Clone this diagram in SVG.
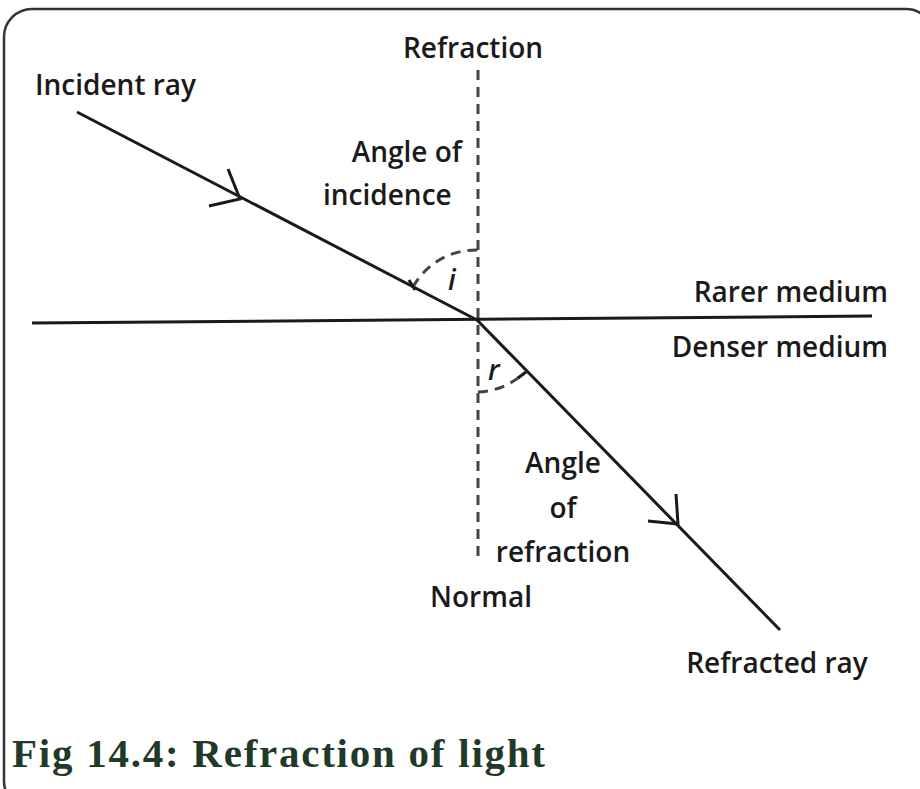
<svg xmlns="http://www.w3.org/2000/svg" width="920" height="789" viewBox="0 0 920 789">
<style>
.t{font-family:"Open Sans","Liberation Sans",sans-serif;font-weight:600;font-size:28px;fill:#1a1a1a}
.ln{stroke:#1a1a1a;stroke-width:3;fill:none}
.ds{stroke:#444;stroke-width:3;fill:none;stroke-dasharray:10,7}
</style>
<rect x="4" y="9" width="930" height="800" rx="28" fill="#fff" stroke="#333" stroke-width="2.5"/>
<g id="connectors">
<line class="ds" x1="478" y1="70" x2="478" y2="562"/>
<line class="ln" x1="32" y1="323" x2="872" y2="316"/>
<line class="ln" x1="77" y1="112" x2="477" y2="320"/>
<line class="ln" x1="477" y1="320" x2="780" y2="630"/>
<path class="ln" d="M228,169 L240,199 L209,206"/>
<path class="ln" d="M676,494 L678,524 L648,521"/>
<path class="ds" d="M413,287 A72,72 0 0 1 478,250"/>
<path class="ln" d="M409,280 l6,10"/>
<path class="ds" d="M478,392 A72,72 0 0 0 523,374"/>
<path class="ln" d="M518,378 l8,-6"/>
</g>
<g id="labels">
<text class="t" x="473" y="58" text-anchor="middle">Refraction</text>
<text class="t" x="35" y="95">Incident ray</text>
<text class="t" x="462" y="162" text-anchor="end">Angle of</text>
<text class="t" x="323" y="205">incidence</text>
<text class="t" x="448" y="290" font-style="italic">i</text>
<text class="t" x="488" y="380" font-style="italic">r</text>
<text class="t" x="888" y="302" text-anchor="end">Rarer medium</text>
<text class="t" x="888" y="357" text-anchor="end">Denser medium</text>
<text class="t" x="563" y="473" text-anchor="middle">Angle</text>
<text class="t" x="563" y="518" text-anchor="middle">of</text>
<text class="t" x="563" y="562" text-anchor="middle">refraction</text>
<text class="t" x="481" y="607" text-anchor="middle">Normal</text>
<text class="t" x="777" y="673" text-anchor="middle">Refracted ray</text>
<text x="12" y="767" font-family="Liberation Serif,serif" font-weight="bold" font-size="41" fill="#1f3a28" textLength="533" lengthAdjust="spacing">Fig 14.4: Refraction of light</text>
</g>
</svg>
